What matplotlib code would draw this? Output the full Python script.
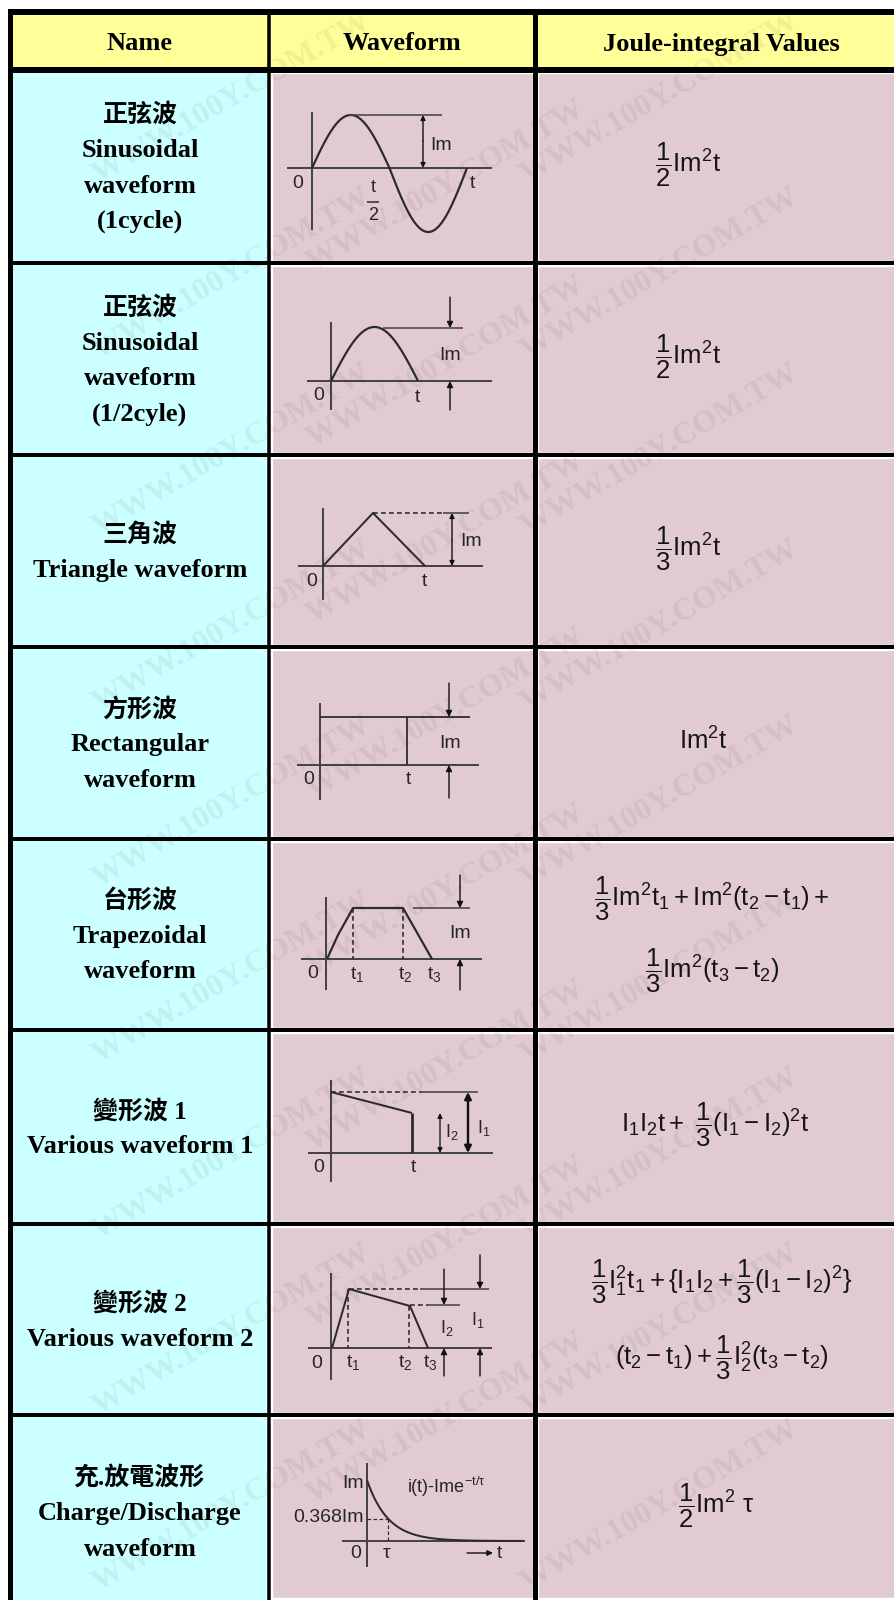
import numpy as np
import matplotlib
matplotlib.use("Agg")
import matplotlib.pyplot as plt
from matplotlib.patches import Rectangle
from matplotlib import font_manager as fm

# ---------------- data ----------------
headers = ["Name", "Waveform", "Joule-integral Values"]
names_zh = ["正弦波", "正弦波", "三角波", "方形波", "台形波", "變形波 1", "變形波 2", "充.放電波形"]
names_en = [["Sinusoidal", "waveform", "(1cycle)"],
            ["Sinusoidal", "waveform", "(1/2cyle)"],
            ["Triangle waveform"],
            ["Rectangular", "waveform"],
            ["Trapezoidal", "waveform"],
            ["Various waveform 1"],
            ["Various waveform 2"],
            ["Charge/Discharge", "waveform"]]
joule_values = [
    [r"$\dfrac{1}{2}Im^2t$"],
    [r"$\dfrac{1}{2}Im^2t$"],
    [r"$\dfrac{1}{3}Im^2t$"],
    [r"$Im^2t$"],
    [r"$\dfrac{1}{3}Im^2t_1+Im^2(t_2-t_1)+$", r"$\dfrac{1}{3}Im^2(t_3-t_2)$"],
    [r"$I_1I_2t+\ \dfrac{1}{3}(I_1-I_2)^2t$"],
    [r"$\dfrac{1}{3}I_1^2t_1+\{I_1I_2+\dfrac{1}{3}(I_1-I_2)^2\}$", r"$(t_2-t_1)+\dfrac{1}{3}I_2^2(t_3-t_2)$"],
    [r"$\dfrac{1}{2}Im^2\ \tau$"],
]
joule_offsets = [[0], [0], [0], [0], [-34, 38], [0], [-36, 40], [0]]
joule_xc = [688, 688, 688, 703, 712, 715, 722, 716]
watermark = "WWW.100Y.COM.TW"

# ---------------- setup ----------------
W, H = 895, 1600
def has_font(name):
    try:
        fm.findfont(fm.FontProperties(family=name), fallback_to_default=False)
        return True
    except Exception:
        return False

SANS = "Liberation Sans" if has_font("Liberation Sans") else "DejaVu Sans"
SERIF = ["Liberation Serif", "Noto Sans CJK TC", "DejaVu Sans"]
plt.rcParams["mathtext.fontset"] = "custom"
plt.rcParams["mathtext.rm"] = SANS
plt.rcParams["mathtext.it"] = SANS
plt.rcParams["mathtext.bf"] = SANS + ":bold"
plt.rcParams["mathtext.default"] = "regular"

PX = 0.72
fig = plt.figure(figsize=(W / 100, H / 100), dpi=100)
ax = fig.add_axes([0, 0, 1, 1])
ax.set_xlim(0, W)
ax.set_ylim(H, 0)
ax.axis("off")

row_edges = [70, 263, 455, 647, 839, 1030, 1224, 1415, 1600]
col_x = [(12, 269.5), (269.5, 535.5), (535.5, W + 20)]

YELLOW = "#FFFF99"
CYAN = "#CCFFFF"
PINK = "#E1CBD1"

# header fills
for (x0, x1) in col_x:
    ax.add_patch(Rectangle((x0, 12), x1 - x0, 58, facecolor=YELLOW, edgecolor="none", zorder=1))
# body fills
for i in range(len(names_zh)):
    y0, y1 = row_edges[i], row_edges[i + 1]
    x0, x1 = col_x[0]
    ax.add_patch(Rectangle((x0, y0), x1 - x0, y1 - y0, facecolor=CYAN, edgecolor="none", zorder=1))
    for (x0, x1) in col_x[1:]:
        ax.add_patch(Rectangle((x0 + 2.5, y0 + 2.5), x1 - x0 - 5, y1 - y0 - 5,
                               facecolor=PINK, edgecolor="white", lw=1.4 * PX, zorder=1))

# watermarks on a staggered lattice (only those that fit inside the picture)
wm_texts = []
for j in range(0, 17):
    y = 98 + j * 88
    xs_row = [232, 660] if j % 2 == 0 else [446]
    for x in xs_row:
        t = ax.text(x, y, watermark, rotation=30, rotation_mode="anchor",
                    ha="center", va="center", fontsize=23, family="Liberation Serif",
                    weight="bold", color="black", alpha=0.06, zorder=1.5)
        wm_texts.append(t)
fig.canvas.draw()
for t in wm_texts:
    bb = t.get_window_extent()
    if bb.x0 < 1 or bb.y0 < 1 or bb.x1 > W - 1 or bb.y1 > H - 1:
        t.remove()

# grid lines
ax.plot([8, W], [12, 12], color="black", lw=6 * PX, zorder=6, solid_capstyle="butt")
ax.plot([8, W], [70, 70], color="black", lw=6 * PX, zorder=6, solid_capstyle="butt")
for y in row_edges[1:-1]:
    ax.plot([8, W], [y, y], color="black", lw=4 * PX, zorder=6, solid_capstyle="butt")
ax.plot([10.5, 10.5], [9, H], color="black", lw=5 * PX, zorder=6, solid_capstyle="butt")
ax.plot([269.5, 269.5], [9, H], color="black", lw=3.5 * PX, zorder=6, solid_capstyle="butt")
ax.plot([535.5, 535.5], [9, H], color="black", lw=5 * PX, zorder=6, solid_capstyle="butt")

# header text
hx = [140, 402, 721]
for x, s in zip(hx, headers):
    ax.text(x, 44, s, ha="center", va="center", fontsize=19, family=SERIF, weight="bold", zorder=7)

# names
LS = 35.5
for i in range(len(names_zh)):
    yc = (row_edges[i] + row_edges[i + 1]) / 2 + (2 if i < 7 else 6)
    lines = [names_zh[i]] + names_en[i]
    n = len(lines)
    for k, s in enumerate(lines):
        y = yc + (k - (n - 1) / 2) * LS
        ax.text(140, y, s, ha="center", va="center", fontsize=19 if k else 18,
                family=SERIF, weight="bold", zorder=7)

# joule values
for i in range(len(joule_values)):
    yc = (row_edges[i] + row_edges[i + 1]) / 2
    for s, off in zip(joule_values[i], joule_offsets[i]):
        ax.text(joule_xc[i], yc + off - 2, s, ha="center", va="center", fontsize=18.5,
                family=SANS, color="#151515", zorder=7)

# ---------------- waveform drawings ----------------
LC = "#2b2b2b"
AC = "#444444"
LABC = "#262626"

def line(xs, ys, ox, oy, lw=2.0, color=LC):
    ax.plot(np.asarray(xs) + ox, np.asarray(ys) + oy, color=color, lw=lw * PX, zorder=5,
            solid_capstyle="butt")

def dline(xs, ys, ox, oy, lw=1.6, color=LC):
    ax.plot(np.asarray(xs) + ox, np.asarray(ys) + oy, color=color, lw=lw * PX, zorder=5,
            linestyle=(0, (3, 2)))

def arrow(x, y0, y1, ox, oy, both=False, lw=1.4, ms=9):
    ax.annotate("", xy=(x + ox, y1 + oy), xytext=(x + ox, y0 + oy),
                arrowprops=dict(arrowstyle="<|-|>" if both else "-|>", color="#111111",
                                lw=lw * PX, mutation_scale=ms, shrinkA=0, shrinkB=0), zorder=5)

def lab(x, y, s, ox, oy, size=14, ha="center"):
    ax.text(x + ox, y + oy, s, ha=ha, va="center", fontsize=size, family=SANS,
            color=LABC, zorder=7)

def axes_(ox, oy, yt, yb, xl, xr):
    line([0, 0], [yt, yb], ox, oy, lw=2.0, color=AC)
    line([xl, xr], [0, 0], ox, oy, lw=2.0, color=AC)

# 1: sinusoidal 1 cycle
ox, oy = 312, 168
axes_(ox, oy, -56, 62, -25, 180)
xs = np.linspace(0, 155, 200)
sv = np.sin(2 * np.pi * xs / 155)
ys = np.where(sv > 0, -53 * sv, -64 * sv)
line(xs, ys, ox, oy, lw=2.2)
line([36, 130], [-53, -53], ox, oy, lw=1.6, color=AC)
arrow(111, -27, -53, ox, oy, ms=7)
arrow(111, -27, 0, ox, oy, ms=7)
lab(118, -23, "Im", ox, oy, ha="left")
lab(-14, 16, "0", ox, oy)
lab(160, 15, "t", ox, oy)
lab(61, 20, "t", ox, oy, size=13)
line([55, 67], [34, 34], ox, oy, lw=1.5)
lab(61, 47, "2", ox, oy, size=13)

# 2: sinusoidal half cycle
ox, oy = 331, 381
axes_(ox, oy, -59, 29, -24, 161)
xs = np.linspace(0, 87, 120)
line(xs, -54 * np.sin(np.pi * xs / 87), ox, oy, lw=2.2)
line([52, 132], [-53, -53], ox, oy, lw=1.6, color=AC)
arrow(119, -84, -53, ox, oy)
arrow(119, 29, 0, ox, oy)
lab(119, -26, "Im", ox, oy)
lab(-12, 14, "0", ox, oy)
lab(86, 17, "t", ox, oy)

# 3: triangle
ox, oy = 323, 566
axes_(ox, oy, -58, 34, -25, 160)
line([0, 50, 102], [0, -53, 0], ox, oy, lw=2.0)
dline([50, 120], [-53, -53], ox, oy)
line([120, 146], [-53, -53], ox, oy, lw=1.6, color=AC)
arrow(129, -26, -53, ox, oy, ms=7)
arrow(129, -26, 0, ox, oy, ms=7)
lab(137, -25, "Im", ox, oy, ha="left")
lab(-11, 15, "0", ox, oy)
lab(101, 15, "t", ox, oy)

# 4: rectangular
ox, oy = 320, 765
axes_(ox, oy, -62, 35, -23, 159)
line([0, 150], [-48, -48], ox, oy, lw=1.8)
line([87, 87], [-48, 0], ox, oy, lw=1.8)
arrow(129, -82, -48, ox, oy)
arrow(129, 33, 0, ox, oy)
lab(130, -22, "Im", ox, oy)
lab(-11, 15, "0", ox, oy)
lab(88, 15, "t", ox, oy)

# 5: trapezoidal
ox, oy = 326, 959
axes_(ox, oy, -62, 31, -25, 156)
line([1, 12, 27, 77, 106], [0, -24, -51, -51, 0], ox, oy, lw=2.2)
dline([27, 27], [-51, 0], ox, oy)
dline([77, 77], [-51, 0], ox, oy)
line([87, 144], [-51, -51], ox, oy, lw=1.6, color=AC)
arrow(134, -84, -51, ox, oy)
arrow(134, 31, 0, ox, oy)
lab(134, -26, "Im", ox, oy)
lab(-13, 15, "0", ox, oy)
lab(31, 15, r"t$_1$", ox, oy)
lab(79, 15, r"t$_2$", ox, oy)
lab(108, 15, r"t$_3$", ox, oy)

# 6: various 1
ox, oy = 331, 1153
axes_(ox, oy, -73, 29, -23, 162)
line([0, 81], [-61, -40], ox, oy, lw=2.0)
line([81, 81], [-40, 0], ox, oy, lw=2.8)
dline([0, 91], [-61, -61], ox, oy)
line([91, 147], [-61, -61], ox, oy, lw=1.6, color=AC)
arrow(137, -61, 0, ox, oy, both=True, lw=2.4, ms=10)
arrow(109, -40, 0, ox, oy, both=True, lw=1.3, ms=7)
lab(114, -21, r"I$_2$", ox, oy, size=13, ha="left")
lab(146, -25, r"I$_1$", ox, oy, size=13, ha="left")
lab(-12, 14, "0", ox, oy)
lab(82, 14, "t", ox, oy)

# 7: various 2
ox, oy = 331, 1348
axes_(ox, oy, -75, 32, -23, 161)
line([1, 18, 79, 97], [0, -59, -42, 0], ox, oy, lw=2.0)
dline([17, 17], [-59, 0], ox, oy)
dline([78, 78], [-42, 0], ox, oy)
dline([18, 89], [-59, -59], ox, oy)
line([89, 158], [-59, -59], ox, oy, lw=1.6, color=AC)
dline([79, 97], [-43, -43], ox, oy)
line([97, 129], [-43, -43], ox, oy, lw=1.6, color=AC)
arrow(113, -79, -43, ox, oy)
arrow(113, 28, 0, ox, oy)
arrow(149, -93, -59, ox, oy)
arrow(149, 28, 0, ox, oy)
lab(116, -20, r"I$_2$", ox, oy, size=13)
lab(147, -28, r"I$_1$", ox, oy, size=13)
lab(-14, 15, "0", ox, oy)
lab(22, 15, r"t$_1$", ox, oy)
lab(74, 15, r"t$_2$", ox, oy)
lab(99, 15, r"t$_3$", ox, oy)

# 8: charge / discharge
ox, oy = 367, 1541
axes_(ox, oy, -78, 26, -25, 158)
xs = np.linspace(0, 156, 200)
line(xs, -61 * np.exp(-xs / 21), ox, oy, lw=2.0)
dline([0, 21], [-22.5, -22.5], ox, oy, lw=1.2)
dline([21, 21], [-22.5, 0], ox, oy, lw=1.2)
lab(-3, -58, "Im", ox, oy, ha="right")
lab(-3, -24, "0.368Im", ox, oy, ha="right")
lab(40, -54, r"i(t)-Ime$^{-t/\tau}$", ox, oy, size=13, ha="left")
lab(-11, 12, "0", ox, oy)
lab(20, 12, r"$\tau$", ox, oy)
ax.annotate("", xy=(ox + 126, oy + 12), xytext=(ox + 100, oy + 12),
            arrowprops=dict(arrowstyle="-|>", color="#111111", lw=1.4 * PX,
                            mutation_scale=8, shrinkA=0, shrinkB=0), zorder=5)
lab(132, 12, "t", ox, oy)

fig.savefig("out.png", dpi=100, facecolor="white")
